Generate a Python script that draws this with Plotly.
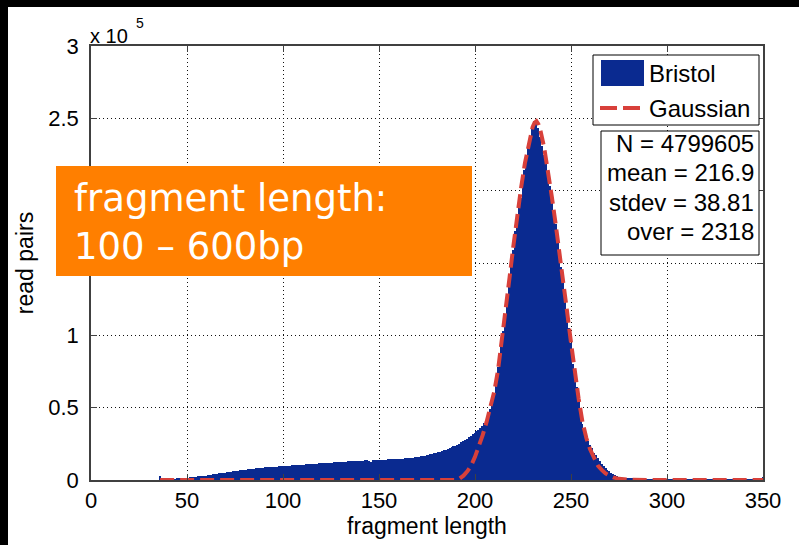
import plotly.graph_objects as go

# ---------------- data (y in units of 10^5) ----------------
bin_start = 35
bristol = [
    0.000, 0.028, 0.004, 0.003, 0.003, 0.004, 0.004, 0.005, 0.006, 0.006,   # 35-44
    0.007, 0.008, 0.010, 0.011, 0.013, 0.015, 0.017, 0.018, 0.020, 0.021,   # 45-54
    0.023, 0.025, 0.026, 0.028, 0.030, 0.031, 0.033, 0.035, 0.037, 0.039,   # 55-64
    0.041, 0.043, 0.045, 0.047, 0.049, 0.051, 0.053, 0.055, 0.057, 0.059,   # 65-74
    0.061, 0.063, 0.064, 0.066, 0.068, 0.070, 0.072, 0.073, 0.075, 0.077,   # 75-84
    0.078, 0.080, 0.081, 0.083, 0.084, 0.086, 0.087, 0.088, 0.089, 0.090,   # 85-94
    0.091, 0.092, 0.093, 0.094, 0.095, 0.096, 0.097, 0.098, 0.099, 0.100,   # 95-104
    0.101, 0.102, 0.103, 0.104, 0.105, 0.106, 0.107, 0.108, 0.109, 0.110,   # 105-114
    0.111, 0.112, 0.113, 0.114, 0.115, 0.116, 0.117, 0.118, 0.119, 0.120,   # 115-124
    0.121, 0.121, 0.122, 0.123, 0.124, 0.125, 0.126, 0.126, 0.127, 0.128,   # 125-134
    0.129, 0.130, 0.130, 0.131, 0.132, 0.133, 0.134, 0.134, 0.135, 0.136,   # 135-144
    0.128, 0.127, 0.136, 0.137, 0.138, 0.139, 0.139, 0.140, 0.140, 0.141,   # 145-154
    0.142, 0.142, 0.143, 0.144, 0.144, 0.145, 0.146, 0.147, 0.148, 0.149,   # 155-164
    0.150, 0.152, 0.153, 0.155, 0.157, 0.159, 0.161, 0.163, 0.166, 0.168,   # 165-174
    0.171, 0.174, 0.177, 0.180, 0.184, 0.188, 0.192, 0.196, 0.200, 0.205,   # 175-184
    0.210, 0.215, 0.220, 0.226, 0.232, 0.238, 0.245, 0.252, 0.260, 0.268,   # 185-194
    0.276, 0.285, 0.295, 0.305, 0.315, 0.326, 0.337, 0.349, 0.362, 0.376,   # 195-204
    0.391, 0.407, 0.440, 0.490, 0.550, 0.600, 0.690, 0.780, 0.860, 0.940,   # 205-214
    1.030, 1.140, 1.260, 1.370, 1.480, 1.590, 1.720, 1.820, 1.880, 1.950,   # 215-224
    2.060, 2.140, 2.220, 2.300, 2.380, 2.440, 2.480, 2.470, 2.430, 2.370,   # 225-234
    2.310, 2.250, 2.190, 2.120, 2.030, 1.930, 1.850, 1.770, 1.680, 1.580,   # 235-244
    1.470, 1.360, 1.240, 1.150, 1.050, 0.950, 0.800, 0.730, 0.640, 0.560,   # 245-254
    0.470, 0.390, 0.340, 0.300, 0.270, 0.240, 0.220, 0.190, 0.170, 0.150,   # 255-264
    0.130, 0.110, 0.095, 0.080, 0.070, 0.060, 0.050, 0.040, 0.032, 0.026,   # 265-274
    0.021, 0.017, 0.014, 0.012, 0.010, 0.009, 0.008, 0.008, 0.007, 0.007,   # 275-284
    0.007, 0.006, 0.006, 0.006, 0.006, 0.006, 0.005, 0.005, 0.005, 0.005,   # 285-294
    0.005, 0.005, 0.005, 0.005, 0.005, 0.005, 0.005, 0.005, 0.005, 0.005,   # 295-304
    0.005, 0.004, 0.004, 0.004, 0.004, 0.004, 0.004, 0.004, 0.004, 0.004,   # 305-314
    0.004, 0.004, 0.004, 0.004, 0.004, 0.004, 0.004, 0.004, 0.004, 0.004,   # 315-324
    0.003, 0.003, 0.003, 0.003, 0.003, 0.003, 0.003, 0.003, 0.003, 0.003,   # 325-334
    0.003, 0.003, 0.003, 0.003, 0.003, 0.003, 0.003, 0.003, 0.003, 0.003,   # 335-344
    0.003, 0.003, 0.003, 0.003, 0.003, 0.023,                               # 345-350
]
bin_centers = list(range(bin_start, bin_start + len(bristol)))

gauss_x = [36, 190, 192, 194, 196, 198, 200, 202, 204, 206, 208, 210, 212, 214, 216,
           218, 220, 222, 224, 226, 228, 230, 231, 232, 233, 234, 236, 238, 240, 242,
           244, 246, 248, 250, 252, 254, 256, 258, 260, 262, 264, 266, 268, 270, 272,
           275, 280, 290, 350]
gauss_y = [0, 0, 0.01, 0.03, 0.06, 0.10, 0.16, 0.23, 0.31, 0.40, 0.50, 0.61, 0.76, 0.96, 1.18,
           1.40, 1.62, 1.83, 2.02, 2.19, 2.33, 2.44, 2.47, 2.48, 2.46, 2.42, 2.30, 2.14, 1.96, 1.77,
           1.58, 1.36, 1.16, 0.95, 0.73, 0.56, 0.40, 0.29, 0.21, 0.15, 0.10, 0.07, 0.045, 0.03, 0.018,
           0.008, 0.002, 0, 0]

x_ticks = [0, 50, 100, 150, 200, 250, 300, 350]
y_ticks = [0, 0.5, 1, 1.5, 2, 2.5, 3]
# the 1.5 and 2 labels are hidden under the orange box in the reference
y_tick_text = ["0", "0.5", "1", "", "", "2.5", "3"]

legend_names = ["Bristol", "Gaussian"]
stats_lines = ["N = 4799605", "mean = 216.9", "stdev = 38.81", "over = 2318"]
overlay_text = "fragment length:<br>100 – 600bp"

# ---------------- layout helpers ----------------
W, H = 799, 545
L, R, T, B = 91, 763, 46, 480          # plot area in pixels
def px(x):
    return (x - L) / (R - L)
def py(y):
    return (B - y) / (B - T)

BLUE = "#0a2a90"
RED = "#d8403a"
FONT = "Liberation Sans, Arial, sans-serif"

fig = go.Figure()
fig.add_trace(go.Bar(x=bin_centers, y=bristol, width=1.0, name=legend_names[0],
                     marker=dict(color=BLUE, line=dict(width=0)), showlegend=False))
fig.add_trace(go.Scatter(x=gauss_x, y=gauss_y, mode="lines", name=legend_names[1],
                         line=dict(color=RED, width=4, dash="14px,6px"), showlegend=False))

shapes = []
# black edge strips of the slide
shapes.append(dict(type="rect", xref="paper", yref="paper", x0=px(0), x1=px(8), y0=py(H), y1=py(0),
                   fillcolor="black", line=dict(width=0), layer="above"))
shapes.append(dict(type="rect", xref="paper", yref="paper", x0=px(0), x1=px(W), y0=py(7), y1=py(0),
                   fillcolor="black", line=dict(width=0), layer="above"))
# orange overlay box
shapes.append(dict(type="rect", xref="paper", yref="paper", x0=px(56), x1=px(472), y0=py(276), y1=py(166),
                   fillcolor="#ff7f00", line=dict(width=0), layer="above"))
# legend box
shapes.append(dict(type="rect", xref="paper", yref="paper", x0=px(593), x1=px(759), y0=py(125), y1=py(55),
                   fillcolor="white", line=dict(color="black", width=1), layer="above"))
shapes.append(dict(type="rect", xref="paper", yref="paper", x0=px(601), x1=px(644), y0=py(86), y1=py(60),
                   fillcolor=BLUE, line=dict(width=0), layer="above"))
shapes.append(dict(type="line", xref="paper", yref="paper", x0=px(600), x1=px(640), y0=py(108), y1=py(108),
                   line=dict(color=RED, width=4, dash="17px,6px"), layer="above"))
# stats box
shapes.append(dict(type="rect", xref="paper", yref="paper", x0=px(601), x1=px(759), y0=py(255), y1=py(131),
                   fillcolor="white", line=dict(color="black", width=1), layer="above"))

annotations = []
annotations.append(dict(xref="paper", yref="paper", x=px(647), y=py(73), text=legend_names[0],
                        xanchor="left", yanchor="middle", showarrow=False,
                        font=dict(family=FONT, size=24, color="black")))
annotations.append(dict(xref="paper", yref="paper", x=px(647), y=py(108), text=legend_names[1],
                        xanchor="left", yanchor="middle", showarrow=False,
                        font=dict(family=FONT, size=24, color="black")))
for i, line in enumerate(stats_lines):
    annotations.append(dict(xref="paper", yref="paper", x=px(756), y=py(143 + 29.5 * i), text=line,
                            xanchor="right", yanchor="middle", showarrow=False,
                            font=dict(family=FONT, size=24, color="black")))
annotations.append(dict(xref="paper", yref="paper", x=px(72), y=py(223), text=overlay_text,
                        xanchor="left", yanchor="middle", align="left", showarrow=False,
                        font=dict(family="DejaVu Sans, Verdana, sans-serif", size=37, color="white")))
# exponent label
annotations.append(dict(xref="paper", yref="paper", x=px(88), y=py(36), text="x 10",
                        xanchor="left", yanchor="middle", showarrow=False,
                        font=dict(family=FONT, size=20, color="black")))
annotations.append(dict(xref="paper", yref="paper", x=px(134), y=py(23), text="5",
                        xanchor="left", yanchor="middle", showarrow=False,
                        font=dict(family=FONT, size=14, color="black")))

fig.update_layout(
    width=W, height=H,
    margin=dict(l=L, r=W - R, t=T, b=H - B, pad=0, autoexpand=False),
    paper_bgcolor="white", plot_bgcolor="white",
    bargap=0, barmode="overlay",
    shapes=shapes, annotations=annotations,
    font=dict(family=FONT, color="black"),
)
axis_common = dict(showline=True, linecolor="#404040", linewidth=1.5, mirror="ticks",
                   ticks="inside", ticklen=6, tickcolor="#404040", automargin=False,
                   showgrid=True, gridcolor="#111111", griddash="1px,3px", gridwidth=1,
                   zeroline=False, tickfont=dict(family=FONT, size=22, color="black"))
fig.update_xaxes(range=[0, 350], tickvals=x_ticks, ticklabelstandoff=0, **axis_common,
                 title=dict(text="fragment length", font=dict(family=FONT, size=23), standoff=3))
fig.update_yaxes(range=[0, 3], tickvals=y_ticks, ticktext=y_tick_text, ticklabelstandoff=6,
                 **axis_common,
                 title=dict(text="read pairs", font=dict(family=FONT, size=23), standoff=8))

fig.write_html("out.html")
